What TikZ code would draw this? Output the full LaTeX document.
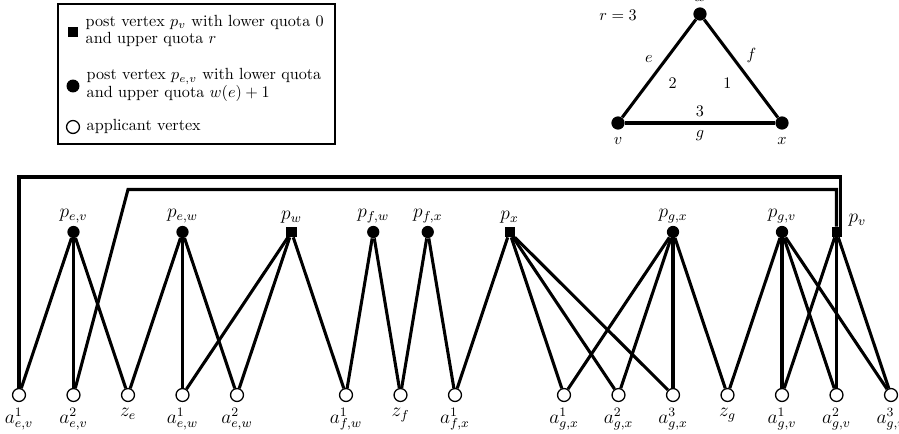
\documentclass[tikz,border=0pt]{standalone}
\usetikzlibrary{calc}
\begin{document}
\begin{tikzpicture}[x=0.619pt, y=-0.619pt,
  edge/.style={line width=1.9pt},
  postdot/.style={circle, fill=black, draw=none, inner sep=0pt, minimum size=7.6pt},
  postsq/.style={rectangle, fill=black, draw=none, inner sep=0pt, minimum size=6.2pt},
  appl/.style={circle, draw=black, fill=white, line width=0.8pt, inner sep=0pt, minimum size=8pt},
  tridot/.style={circle, fill=black, draw=none, inner sep=0pt, minimum size=8.2pt},
  lblup/.style={font=\large, inner sep=1pt, label distance=0.6pt},
  lbldn/.style={font=\large, inner sep=1pt, label distance=2.3pt},
  legtext/.style={anchor=west, align=left, font=\fontsize{10}{11.1}\selectfont}
]
\useasboundingbox (0,0) rectangle (899,434);

% ---------- legend ----------
\draw[line width=1.3pt] (58,4) rectangle (335,144);
\node[postsq, minimum size=5.8pt] (lsq) at (73,32) {};
\node[legtext] (lt1) at (80,31) {post vertex $p_v$ with lower quota 0\\and upper quota $r$};
\node[postdot, minimum size=8pt] (ldot) at (73,86) {};
\node[legtext] (lt2) at (81,85) {post vertex $p_{e,v}$ with lower quota\\and upper quota $w(e)+1$};
\node[appl] (lapp) at (73,127) {};
\node[legtext] (lt3) at (81,126) {applicant vertex};

% ---------- triangle ----------
\node (rlab) at (618,15) {$r=3$};
\node[tridot, label={[font=\large]above:$w$}] (tw) at (700,14) {};
\node[tridot, label={[font=\normalsize, label distance=1pt]below:$v$}] (tv) at (618,123) {};
\node[tridot, label={[font=\normalsize, label distance=1pt]below:$x$}] (tx) at (782,123) {};
\draw[edge] (tv) -- node[pos=0.5, above left, inner sep=3pt] (le) {$e$} node[pos=0.5, below right, inner sep=5pt] (l2) {2} (tw);
\draw[edge] (tw) -- node[pos=0.5, above right, inner sep=2.5pt] (lf) {$f$} node[pos=0.5, below left, inner sep=5pt] (l1) {1} (tx);
\draw[edge] (tv) -- node[pos=0.5, above, inner sep=3pt] (l3) {3} node[pos=0.5, below, inner sep=4pt] (lg) {$g$} (tx);

% ---------- posts ----------
\node[postdot, label={[lblup]above:$p_{e,v}$}] (pev) at (73.5,232) {};
\node[postdot, label={[lblup]above:$p_{e,w}$}] (pew) at (182.5,232) {};
\node[postsq,  label={[lblup]above:$p_{w}$}]   (pw)  at (291.5,232) {};
\node[postdot, label={[lblup]above:$p_{f,w}$}] (pfw) at (373.25,232) {};
\node[postdot, label={[lblup]above:$p_{f,x}$}] (pfx) at (427.75,232) {};
\node[postsq,  label={[lblup]above:$p_{x}$}]   (px)  at (509.5,232) {};
\node[postdot, label={[lblup]above:$p_{g,x}$}] (pgx) at (673,232) {};
\node[postdot, label={[lblup]above:$p_{g,v}$}] (pgv) at (782,232) {};
\node[postsq,  label={[font=\large, inner sep=1pt, anchor=south west, xshift=3pt, yshift=-1pt]north east:$p_{v}$}] (pv) at (836.5,232) {};

% ---------- applicants ----------
\node[appl, label={[lbldn]below:$a^1_{e,v}$}] (a1ev) at (19,395) {};
\node[appl, label={[lbldn]below:$a^2_{e,v}$}] (a2ev) at (73.5,395) {};
\node[appl, label={[lbldn]below:$z_{e}$}]     (ze)   at (128,395) {};
\node[appl, label={[lbldn]below:$a^1_{e,w}$}] (a1ew) at (182.5,395) {};
\node[appl, label={[lbldn]below:$a^2_{e,w}$}] (a2ew) at (237,395) {};
\node[appl, label={[lbldn]below:$a^1_{f,w}$}] (a1fw) at (346,395) {};
\node[appl, label={[lbldn]below:$z_{f}$}]     (zf)   at (400.5,395) {};
\node[appl, label={[lbldn]below:$a^1_{f,x}$}] (a1fx) at (455,395) {};
\node[appl, label={[lbldn]below:$a^1_{g,x}$}] (a1gx) at (564,395) {};
\node[appl, label={[lbldn]below:$a^2_{g,x}$}] (a2gx) at (618.5,395) {};
\node[appl, label={[lbldn]below:$a^3_{g,x}$}] (a3gx) at (673,395) {};
\node[appl, label={[lbldn]below:$z_{g}$}]     (zg)   at (727.5,395) {};
\node[appl, label={[lbldn]below:$a^1_{g,v}$}] (a1gv) at (782,395) {};
\node[appl, label={[lbldn]below:$a^2_{g,v}$}] (a2gv) at (836.5,395) {};
\node[appl, label={[lbldn]below:$a^3_{g,v}$}] (a3gv) at (891,395) {};

% ---------- edges ----------
\foreach \p/\a in {pev/a1ev, pev/a2ev, pev/ze,
                   pew/ze, pew/a1ew, pew/a2ew,
                   pw/a1ew, pw/a2ew, pw/a1fw,
                   pfw/a1fw, pfw/zf,
                   pfx/zf, pfx/a1fx,
                   px/a1fx, px/a1gx, px/a2gx, px/a3gx,
                   pgx/a1gx, pgx/a2gx, pgx/a3gx, pgx/zg,
                   pgv/zg, pgv/a1gv, pgv/a2gv, pgv/a3gv,
                   pv/a1gv, pv/a2gv, pv/a3gv}
  \draw[edge] (\p) -- (\a);

% long connectors to p_v
\coordinate (outerTR) at (840.5,177);
\coordinate (innerTL) at (128,189.5);
\draw[edge] (a1ev) |- (outerTR) -- (outerTR |- pv.north);
\draw[edge] (a2ev) -- (innerTL) -| (pv);
\end{tikzpicture}
\end{document}
